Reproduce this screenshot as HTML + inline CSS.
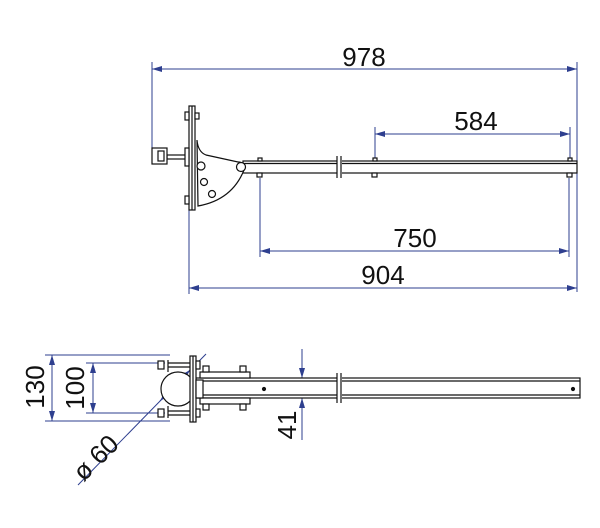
<!DOCTYPE html>
<html><head><meta charset="utf-8"><style>
html,body{margin:0;padding:0;background:#fff}
svg{display:block}
text{font-family:"Liberation Sans","DejaVu Sans",sans-serif;fill:#111}
</style></head><body>
<svg width="600" height="528" viewBox="0 0 600 528" xmlns="http://www.w3.org/2000/svg">
<defs>
<marker id="a" viewBox="0 0 10 6" refX="10" refY="3" markerWidth="10" markerHeight="6" orient="auto-start-reverse" markerUnits="userSpaceOnUse"><path d="M0,0 L10,3 L0,6 z" fill="#2e3f8f"/></marker>
</defs>
<g stroke="#2e3f8f" stroke-width="1" fill="none">
<line x1="152" y1="62" x2="152" y2="150"/>
<line x1="577" y1="62" x2="577" y2="292"/>
<line x1="152" y1="69" x2="577" y2="69" marker-start="url(#a)" marker-end="url(#a)"/>
<line x1="375" y1="127" x2="375" y2="160"/>
<line x1="570" y1="127" x2="570" y2="160"/>
<line x1="375" y1="134" x2="570" y2="134" marker-start="url(#a)" marker-end="url(#a)"/>
<line x1="260" y1="178" x2="260" y2="257"/>
<line x1="569" y1="178" x2="569" y2="257"/>
<line x1="260" y1="251" x2="569" y2="251" marker-start="url(#a)" marker-end="url(#a)"/>
<line x1="189" y1="210" x2="189" y2="294"/>
<line x1="189" y1="288" x2="577" y2="288" marker-start="url(#a)" marker-end="url(#a)"/>
<line x1="45" y1="355" x2="170" y2="355"/>
<line x1="45" y1="421" x2="170" y2="421"/>
<line x1="52" y1="355" x2="52" y2="421" marker-start="url(#a)" marker-end="url(#a)"/>
<line x1="86" y1="363" x2="165" y2="363"/>
<line x1="86" y1="413" x2="165" y2="413"/>
<line x1="93" y1="363" x2="93" y2="413" marker-start="url(#a)" marker-end="url(#a)"/>
<line x1="302" y1="349" x2="302" y2="378" marker-end="url(#a)"/>
<line x1="302" y1="440" x2="302" y2="398" marker-end="url(#a)"/>
<line x1="78" y1="485" x2="206" y2="354"/>
<line x1="160" y1="401" x2="190" y2="370" marker-start="url(#a)" marker-end="url(#a)"/>
</g>
<g font-size="26">
<text x="364" y="66" text-anchor="middle">978</text>
<text x="476" y="130" text-anchor="middle">584</text>
<text x="415" y="247" text-anchor="middle">750</text>
<text x="383" y="284" text-anchor="middle">904</text>
<text transform="translate(44,387) rotate(-90)" text-anchor="middle">130</text>
<text transform="translate(84,388) rotate(-90)" text-anchor="middle">100</text>
<text transform="translate(296,425) rotate(-90)" text-anchor="middle">41</text>
<text transform="translate(102,464) rotate(-45)" text-anchor="middle">ø 60</text>
</g>
<g stroke="#111" stroke-width="1.2" fill="#fff">
<rect x="243" y="161" width="334" height="12"/>
<line x1="243" y1="163.5" x2="577" y2="163.5"/>
<rect x="337" y="156" width="5" height="22" stroke="none"/>
<line x1="337" y1="156" x2="337" y2="178"/>
<line x1="341" y1="156" x2="341" y2="178"/>
<path d="M197,140 Q198,152 206,155 L238,162 A6,6 0 0 1 244,170 Q232,200 198,206 Z"/>
<circle cx="241" cy="167" r="4.5"/>
<circle cx="201" cy="166" r="4"/>
<circle cx="204" cy="182" r="3.5"/>
<circle cx="212" cy="194" r="3.5"/>
<rect x="189" y="106" width="6" height="104"/>
<line x1="192" y1="106" x2="192" y2="210"/>
<rect x="185" y="112" width="4" height="8"/>
<rect x="185" y="196" width="4" height="8"/>
<rect x="195" y="113" width="4" height="6"/>
<rect x="167" y="155" width="20" height="4"/>
<rect x="185" y="148" width="4" height="18"/>
<rect x="152" y="148" width="15" height="16"/>
<rect x="158" y="151" width="6" height="10"/>
<rect x="257" y="173" width="5" height="4"/>
<rect x="372" y="173" width="5" height="4"/>
<rect x="567" y="173" width="5" height="4"/>
<rect x="373" y="158" width="4" height="3"/>
<rect x="568" y="158" width="4" height="3"/>
<rect x="258" y="158" width="4" height="3"/>
</g>
<g stroke="#111" stroke-width="1.2" fill="#fff">
<rect x="196" y="378" width="384" height="20"/>
<line x1="196" y1="381" x2="580" y2="381"/>
<line x1="196" y1="395" x2="580" y2="395"/>
<rect x="337" y="373" width="5" height="30" stroke="none"/>
<line x1="337" y1="373" x2="337" y2="403"/>
<line x1="341" y1="373" x2="341" y2="403"/>
<circle cx="573" cy="389" r="1.5" fill="#111"/>
<circle cx="264" cy="389" r="1.5" fill="#111"/>
<rect x="200" y="372" width="50" height="6"/>
<rect x="200" y="398" width="50" height="6"/>
<rect x="203" y="366" width="6" height="6"/>
<rect x="240" y="366" width="6" height="6"/>
<rect x="203" y="404" width="6" height="6"/>
<rect x="240" y="404" width="6" height="6"/>
<line x1="168" y1="360" x2="168" y2="372"/>
<line x1="168" y1="406" x2="168" y2="418"/>
<circle cx="178" cy="389" r="17"/>
<rect x="190" y="356" width="6" height="66"/>
<line x1="193" y1="356" x2="193" y2="422"/>
<line x1="168" y1="363" x2="190" y2="363"/>
<line x1="168" y1="367" x2="190" y2="367"/>
<line x1="168" y1="411" x2="190" y2="411"/>
<line x1="168" y1="415" x2="190" y2="415"/>
<rect x="158" y="361" width="6" height="8"/>
<rect x="158" y="409" width="6" height="8"/>
<rect x="196" y="361" width="4" height="8"/>
<rect x="196" y="409" width="4" height="8"/>
<rect x="196" y="380" width="7" height="18"/>
</g>
</svg>
</body></html>
